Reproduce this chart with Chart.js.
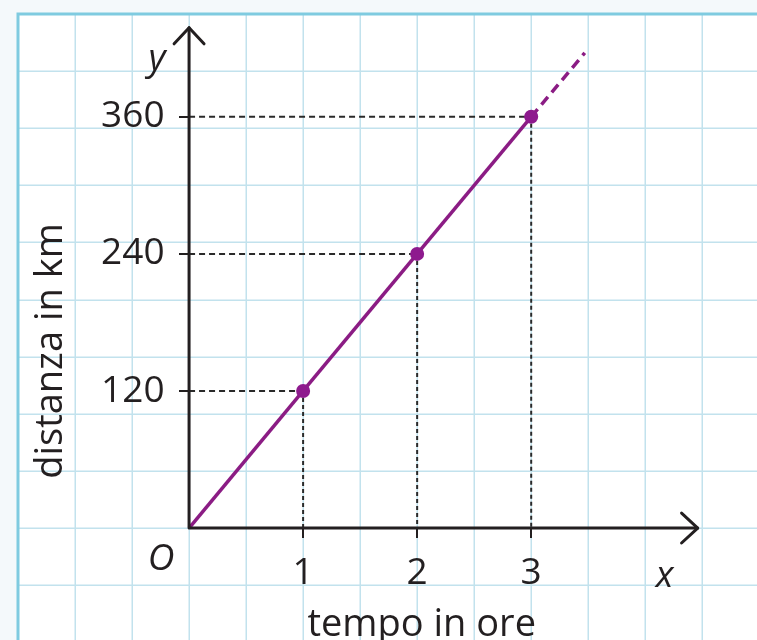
<!DOCTYPE html>
<html>
<head>
<meta charset="utf-8">
<script src="https://cdn.jsdelivr.net/npm/chart.js@4"></script>
<style>
  html, body { margin: 0; padding: 0; background: #f4f9fb; }
  #wrap { width: 757px; height: 640px; position: relative; }
</style>
</head>
<body>
<div id="wrap"><canvas id="chart"></canvas></div>
<script>
// values
const hours = [0, 1, 2, 3];
const distances = [0, 120, 240, 360];
const extHours = [3, 3.47];          // dashed continuation of the line
const extDistances = [360, 416];
const xTickValues = [1, 2, 3];
const yTickValues = [120, 240, 360];

const FONT = "'Open Sans', 'Noto Sans', sans-serif";
const INK = "#231f20";
const PURPLE = "#8b1c84";
const GRID = "#c2e2ed";
const GRID_EDGE = "#7fcbe0";

// horizontal guides: from the y axis to each point, vertical guides: from the point down to the x axis
const hGuides = [];
const vGuides = [];
hours.forEach((h, i) => {
    if (i === 0) return;
    hGuides.push({ x: 0, y: distances[i] }, { x: h, y: distances[i] }, { x: null, y: null });
    vGuides.push({ x: h, y: distances[i] }, { x: h, y: 0 }, { x: null, y: null });
});

// positioned axes should not push the chart area around
function noPadding(scale) {
    scale.paddingTop = 0;
    scale.paddingBottom = 0;
    scale.paddingLeft = 0;
    scale.paddingRight = 0;
}

const paper = {
    id: "paper",
    beforeDraw(chart) {
        const { ctx, chartArea } = chart;
        const xs = chart.scales.x;
        const ys = chart.scales.y;
        ctx.save();
        ctx.fillStyle = "#f4f9fb";
        ctx.fillRect(0, 0, chart.width, chart.height);
        ctx.fillStyle = "#ffffff";
        ctx.fillRect(chartArea.left, chartArea.top, chartArea.right - chartArea.left, chartArea.bottom - chartArea.top);

        // squared paper: one square is half an hour by 50 km
        ctx.strokeStyle = GRID;
        ctx.lineWidth = 1.5;
        ctx.beginPath();
        for (let v = xs.min + 0.5; v < xs.max; v += 0.5) {
            const px = Math.round(xs.getPixelForValue(v)) + 0.25;
            ctx.moveTo(px, chartArea.top);
            ctx.lineTo(px, chartArea.bottom);
        }
        for (let v = ys.max - 50; v > ys.min; v -= 50) {
            const py = Math.round(ys.getPixelForValue(v)) + 0.25;
            ctx.moveTo(chartArea.left, py);
            ctx.lineTo(chartArea.right, py);
        }
        ctx.stroke();
        ctx.strokeStyle = GRID_EDGE;
        ctx.lineWidth = 3;
        ctx.beginPath();
        ctx.moveTo(chartArea.left, chartArea.bottom);
        ctx.lineTo(chartArea.left, chartArea.top);
        ctx.lineTo(chartArea.right, chartArea.top);
        ctx.stroke();
        ctx.restore();
    },
    afterDraw(chart) {
        const { ctx } = chart;
        const xs = chart.scales.x;
        const ys = chart.scales.y;
        const ox = xs.getPixelForValue(0);
        const oy = ys.getPixelForValue(0);
        const xEnd = xs.getPixelForValue(4.46);
        const yEnd = ys.getPixelForValue(438);

        ctx.save();
        // axes with open arrow heads
        ctx.strokeStyle = INK;
        ctx.lineWidth = 3;
        ctx.lineCap = "round";
        ctx.lineJoin = "round";
        ctx.beginPath();
        ctx.moveTo(ox, oy);
        ctx.lineTo(xEnd, oy);
        ctx.moveTo(ox, oy);
        ctx.lineTo(ox, yEnd);
        ctx.stroke();
        const arm = 22;
        const a = Math.PI / 4.2;
        ctx.beginPath();
        ctx.moveTo(xEnd - arm * Math.cos(a), oy - arm * Math.sin(a));
        ctx.lineTo(xEnd, oy);
        ctx.lineTo(xEnd - arm * Math.cos(a), oy + arm * Math.sin(a));
        ctx.moveTo(ox - arm * Math.sin(a), yEnd + arm * Math.cos(a));
        ctx.lineTo(ox, yEnd);
        ctx.lineTo(ox + arm * Math.sin(a), yEnd + arm * Math.cos(a));
        ctx.stroke();

        // letters
        ctx.fillStyle = INK;
        ctx.font = "italic 37px " + FONT;
        ctx.textAlign = "center";
        ctx.textBaseline = "middle";
        ctx.fillText("O", ox - 28, oy + 31);
        ctx.fillText("x", xs.getPixelForValue(4.17), oy + 48);
        ctx.textBaseline = "alphabetic";
        ctx.fillText("y", ox - 32, yEnd + 42);

        ctx.font = "38px " + FONT;
        ctx.fillText("tempo in ore", xs.getPixelForValue(2.04), oy + 108);
        ctx.translate(62, ys.getPixelForValue(155));
        ctx.rotate(-Math.PI / 2);
        ctx.fillText("distanza in km", 0, 0);
        ctx.restore();
    }
};

const xRange = { min: -1.5, max: 4.98 };
const yRange = { min: -98, max: 450 };

new Chart(document.getElementById("chart"), {
    type: "line",
    data: {
        datasets: [
            {
                data: hours.map((h, i) => ({ x: h, y: distances[i] })),
                borderColor: PURPLE,
                borderWidth: 3.5,
                pointRadius: ctx => (ctx.dataIndex === 0 ? 0 : 7),
                pointBackgroundColor: "#8e1a8e",
                pointBorderWidth: 0
            },
            {
                data: extHours.map((h, i) => ({ x: h, y: extDistances[i] })),
                borderColor: PURPLE,
                borderWidth: 3.5,
                borderDash: [10, 6],
                pointRadius: 0
            },
            {
                data: hGuides,
                borderColor: "#2a2a2a",
                borderWidth: 2,
                borderDash: [6, 4],
                pointRadius: 0,
                spanGaps: false
            },
            {
                data: vGuides,
                borderColor: "#2a2a2a",
                borderWidth: 2,
                borderDash: [4, 3],
                pointRadius: 0,
                spanGaps: false
            }
        ]
    },
    options: {
        responsive: true,
        maintainAspectRatio: false,
        animation: false,
        layout: { padding: { left: 18, top: 14, right: 0, bottom: 0 }, autoPadding: false },
        plugins: { legend: { display: false }, tooltip: { enabled: false } },
        scales: {
            x: { type: "linear", display: false, ...xRange },
            y: { type: "linear", display: false, ...yRange },
            // x axis ticks and labels, sitting on y = 0
            xt: {
                type: "linear",
                axis: "x",
                position: { y: 0 },
                ...xRange,
                afterBuildTicks: scale => { scale.ticks = xTickValues.map(v => ({ value: v })); },
                afterFit: noPadding,
                ticks: { color: INK, font: { family: FONT, size: 37 }, padding: 13 },
                grid: { drawOnChartArea: false, tickLength: 10, color: INK, lineWidth: 2 },
                border: { display: false }
            },
            // y axis tick marks on x = 0
            yt: {
                type: "linear",
                axis: "y",
                position: { x: 0 },
                ...yRange,
                afterBuildTicks: scale => { scale.ticks = yTickValues.map(v => ({ value: v })); },
                afterFit: noPadding,
                ticks: { display: false },
                grid: { drawOnChartArea: false, tickLength: 10, color: INK, lineWidth: 2 },
                border: { display: false }
            },
            // y labels, right aligned a little left of the tick marks
            yl: {
                type: "linear",
                axis: "y",
                position: { x: -0.215 },
                ...yRange,
                afterBuildTicks: scale => { scale.ticks = yTickValues.map(v => ({ value: v })); },
                afterFit: noPadding,
                ticks: { color: INK, font: { family: FONT, size: 37 }, padding: 0 },
                grid: { display: false },
                border: { display: false }
            }
        }
    },
    plugins: [paper]
});
</script>
</body>
</html>
